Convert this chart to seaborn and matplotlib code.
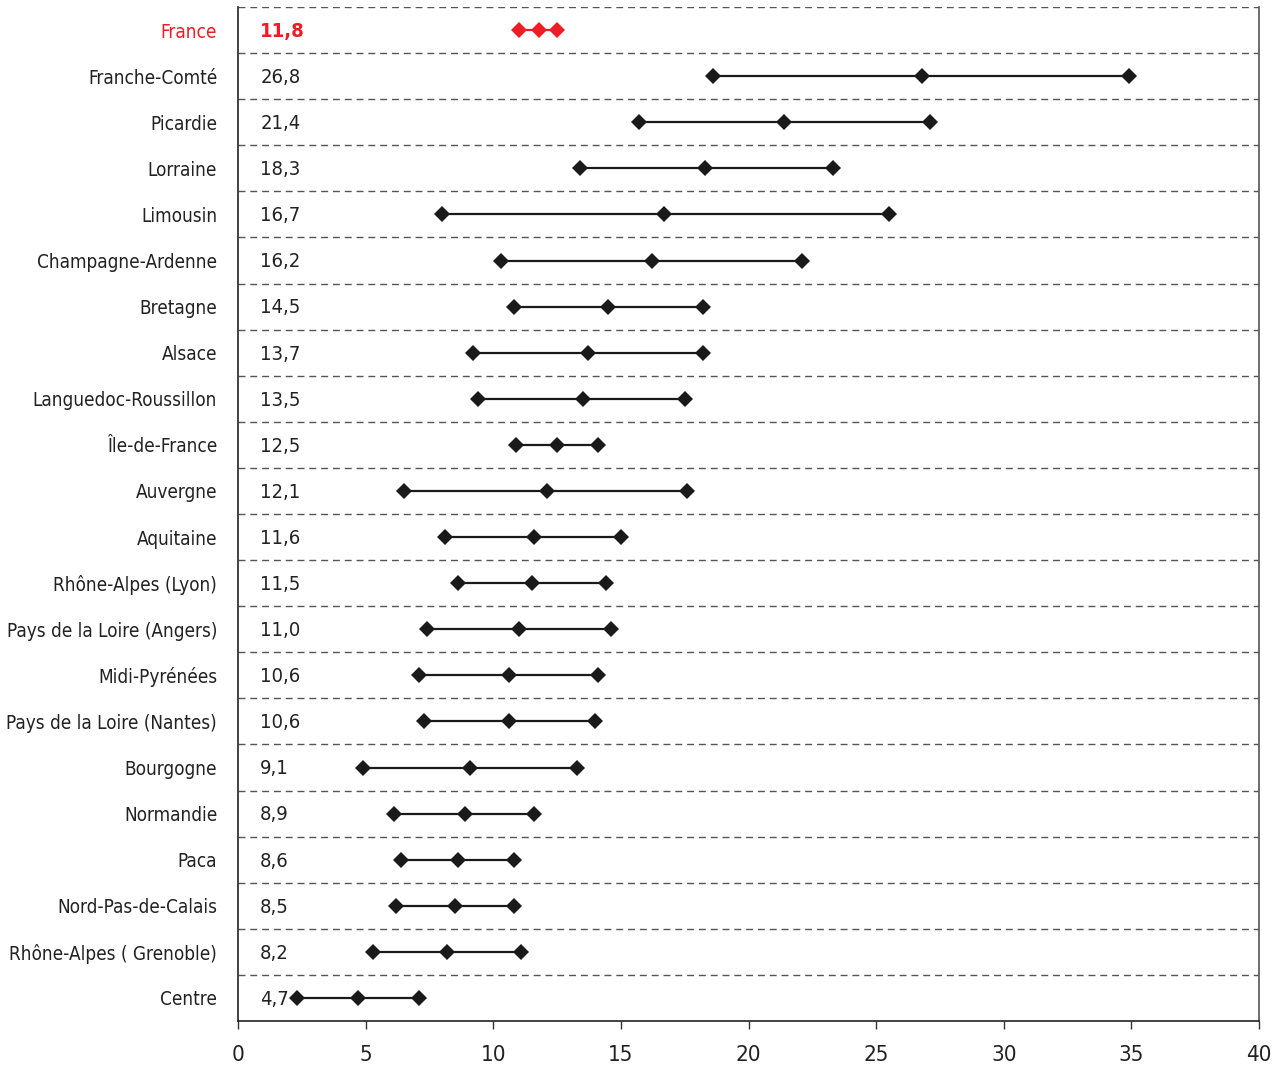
import matplotlib
matplotlib.use("Agg")
import matplotlib.pyplot as plt
import pandas as pd
import seaborn as sns

regions = ["France", "Franche-Comté", "Picardie", "Lorraine", "Limousin",
           "Champagne-Ardenne", "Bretagne", "Alsace", "Languedoc-Roussillon",
           "Île-de-France", "Auvergne", "Aquitaine", "Rhône-Alpes (Lyon)",
           "Pays de la Loire (Angers)", "Midi-Pyrénées", "Pays de la Loire (Nantes)",
           "Bourgogne", "Normandie", "Paca", "Nord-Pas-de-Calais",
           "Rhône-Alpes ( Grenoble)", "Centre"]
mid = [11.8, 26.8, 21.4, 18.3, 16.7, 16.2, 14.5, 13.7, 13.5, 12.5, 12.1,
       11.6, 11.5, 11.0, 10.6, 10.6, 9.1, 8.9, 8.6, 8.5, 8.2, 4.7]
low = [11.0, 18.6, 15.7, 13.4, 8.0, 10.3, 10.8, 9.2, 9.4, 10.9, 6.5,
       8.1, 8.6, 7.4, 7.1, 7.3, 4.9, 6.1, 6.4, 6.2, 5.3, 2.3]
high = [12.5, 34.9, 27.1, 23.3, 25.5, 22.1, 18.2, 18.2, 17.5, 14.1, 17.6,
        15.0, 14.4, 14.6, 14.1, 14.0, 13.3, 11.6, 10.8, 10.8, 11.1, 7.1]
x_ticks = [0, 5, 10, 15, 20, 25, 30, 35, 40]

rows = []
for i, r in enumerate(regions):
    for v in (low[i], mid[i], high[i]):
        rows.append({"region": r, "pos": i, "value": v})
df = pd.DataFrame(rows)

sns.set_style("white")
plt.rcParams["font.family"] = ["DejaVu Sans"]
plt.rcParams["font.stretch"] = "condensed"

fig = plt.figure(figsize=(12.75, 10.66), dpi=100)
ax = fig.add_axes([238 / 1275, 1 - 1021 / 1066, (1259 - 238) / 1275, (1021 - 7) / 1066])

red = "#ee1c25"
others = df[df.region != "France"]
france = df[df.region == "France"]
sns.lineplot(data=others, x="value", y="pos", units="region", estimator=None,
             color="#1a1a1a", marker="D", markersize=8, markeredgewidth=0,
             linewidth=1.6, ax=ax)
sns.lineplot(data=france, x="value", y="pos", units="region", estimator=None,
             color=red, marker="D", markersize=8, markeredgewidth=0,
             linewidth=1.6, ax=ax)

# dashed separators
for b in range(len(regions)):
    ax.axhline(b - 0.5, color="#555555", linestyle=(0, (5, 3.5)), linewidth=1, zorder=0)

ax.set_xlim(0, 40)
ax.set_ylim(len(regions) - 0.5, -0.5)
ax.set_xticks(x_ticks)
ax.set_yticks(range(len(regions)))
ax.set_yticklabels(regions)
ax.set_xlabel("")
ax.set_ylabel("")
ax.tick_params(axis="y", length=0, pad=15, labelsize=13.6, labelcolor="#222222")
ax.tick_params(axis="x", direction="out", bottom=True, length=6, width=1,
               color="#333333", pad=11, labelsize=16, labelcolor="#222222")
ax.get_yticklabels()[0].set_color(red)

for s in ["left", "bottom"]:
    ax.spines[s].set_color("#222222")
    ax.spines[s].set_linewidth(1.2)
ax.spines["right"].set_color("#555555")
ax.spines["right"].set_linewidth(1.2)
ax.spines["top"].set_visible(False)

for i, m in enumerate(mid):
    txt = f"{m:.1f}".replace(".", ",")
    if i == 0:
        ax.annotate(txt, xy=(0, i), xycoords=("axes fraction", "data"),
                    xytext=(16, -1), textcoords="offset points", va="center",
                    ha="left", fontsize=14.5, color=red, fontweight="bold")
    else:
        ax.annotate(txt, xy=(0, i), xycoords=("axes fraction", "data"),
                    xytext=(16, -1), textcoords="offset points", va="center",
                    ha="left", fontsize=14.5, color="#222222")

fig.savefig("out.png", dpi=100)
